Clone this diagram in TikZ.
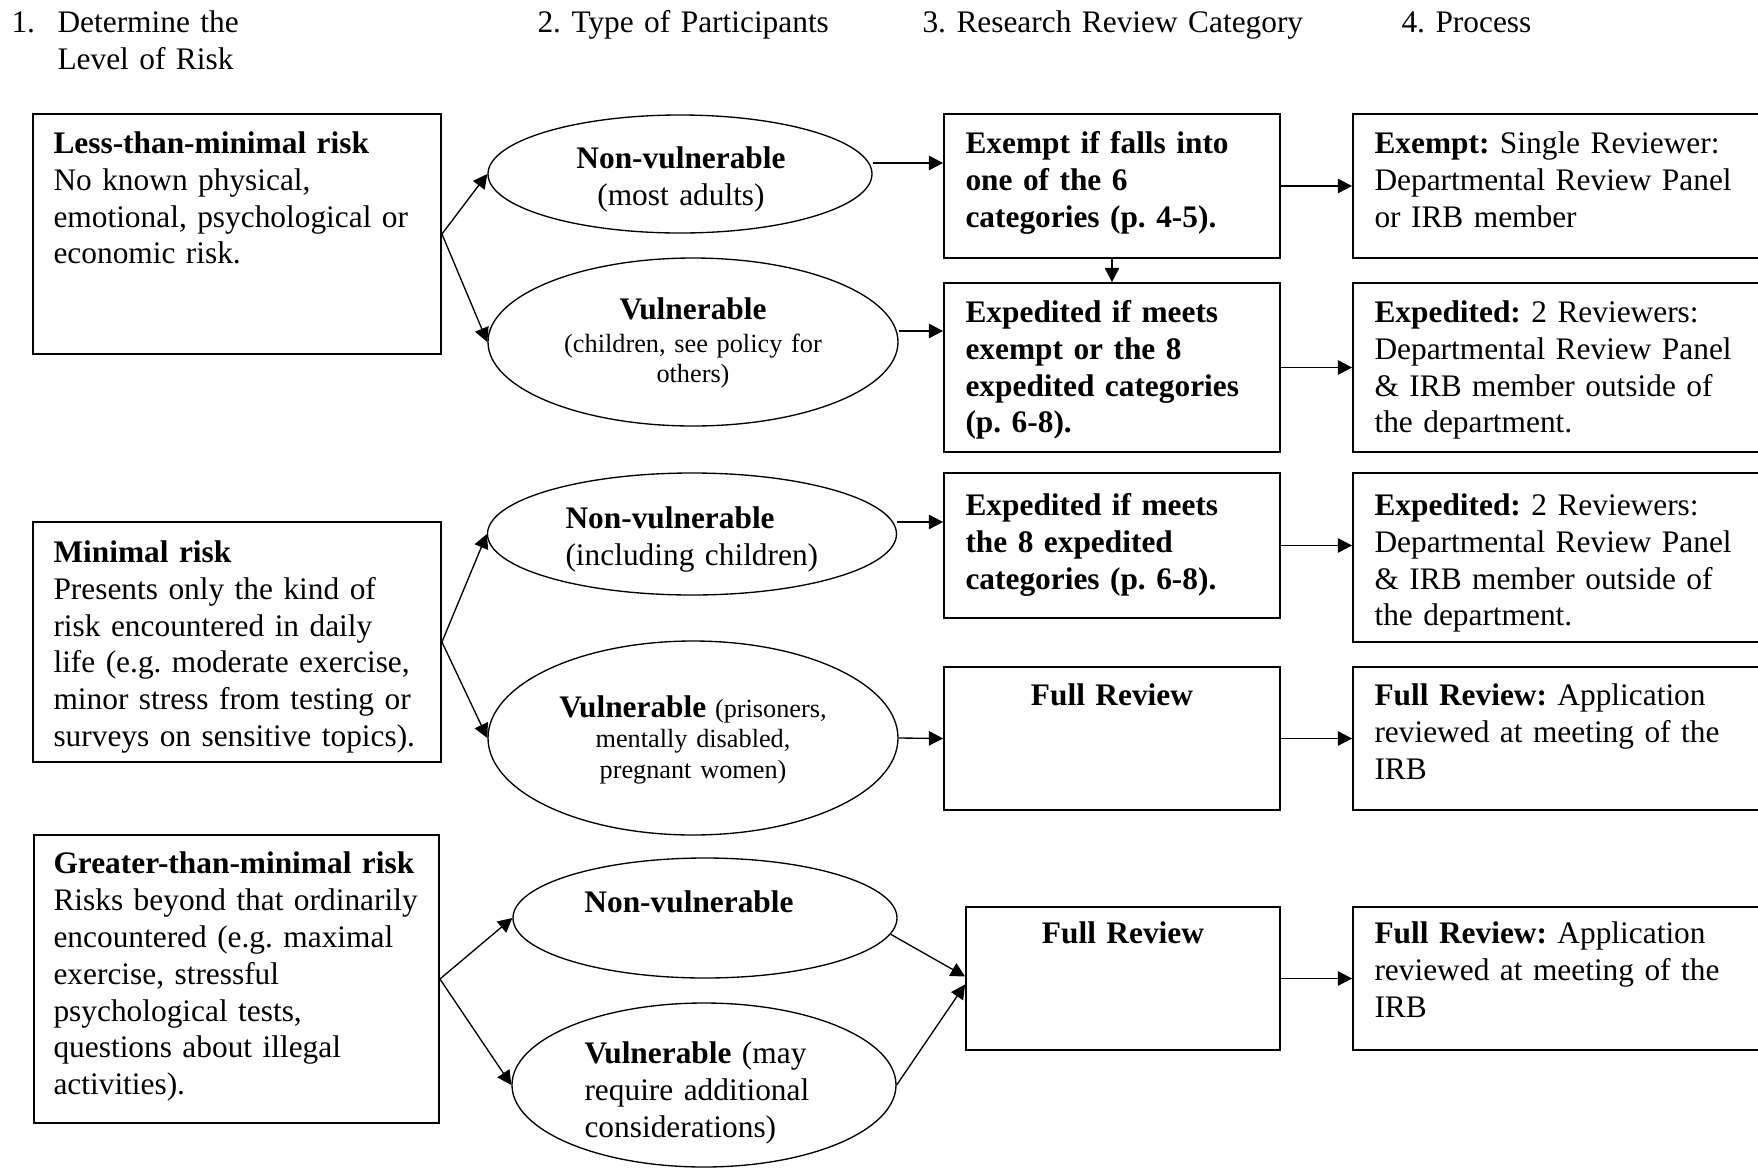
\documentclass[tikz,border=0pt]{standalone}
\usepackage{fontspec}
\setmainfont{Liberation Serif}
\usetikzlibrary{arrows.meta,shapes.geometric,fit}
\newcommand{\px}{0.373pt}
\newcommand{\bodysize}{\fontsize{11.7}{13.8}\selectfont\frenchspacing}
\newcommand{\smallsize}{\fontsize{9.8}{11.5}\selectfont\frenchspacing}

\tikzset{
    box/.style = {draw, line width=0.7pt, inner sep=0pt},
    oval/.style = {draw, ellipse, line width=0.5pt, inner sep=0pt},
    txt/.style = {inner sep=0pt, align=left, text width=400*\px, font=\bodysize},
    ctxt/.style = {inner sep=0pt, align=center, text width=380*\px, font=\bodysize},
    arr/.style = {-{Triangle[length=5.3pt,width=5.4pt]}, line width=0.5pt}
}

\begin{document}
\begin{tikzpicture}[x=\px, y=-\px]
        \useasboundingbox (0,0) rectangle (1758,1168);
        %\draw[help lines] (0,0) grid[step=100] (1758,1168);

        % column heads
        \node[txt, text width=40*\px, anchor=base west] (h1n) at (11,32) {1.};
        \node[txt, anchor=base west] (h1) at (57,32) {Determine the\\Level of Risk};
        \node[txt, anchor=base west] (h2) at (537,32) {2. Type of Participants};
        \node[txt, anchor=base west] (h3) at (922,32) {3. Research Review Category};
        \node[txt, anchor=base west] (h4) at (1401,32) {4. Process};

        % level of risk
        \node[box, fit={(33,114) (441,354)}] (lmr) {};
        \node[box, fit={(33,522) (441,762)}] (mr) {};
        \node[box, fit={(34,835) (439,1123)}] (gmr) {};
        \node[txt, anchor=base west] (lmr-t) at (53,153)
            {\textbf{Less-than-minimal risk}\\No known physical,\\emotional, psychological or\\economic risk.};
        \node[txt, anchor=base west] (mr-t) at (53,562)
            {\textbf{Minimal risk}\\Presents only the kind of\\risk encountered in daily\\life (e.g. moderate exercise,\\minor stress from testing or\\surveys on sensitive topics).};
        \node[txt, anchor=base west] (gmr-t) at (53,873)
            {\textbf{Greater-than-minimal risk}\\Risks beyond that ordinarily\\encountered (e.g. maximal\\exercise, stressful\\psychological tests,\\questions about illegal\\activities).};

        % participants
        \node[oval, minimum width=384*\px, minimum height=118*\px] (nv1) at (680,174) {};
        \node[oval, minimum width=410*\px, minimum height=168*\px] (v1) at (693,342) {};
        \node[oval, minimum width=409*\px, minimum height=122*\px] (nv2) at (692,534) {};
        \node[oval, minimum width=410*\px, minimum height=194*\px] (v2) at (693,738) {};
        \node[oval, minimum width=384*\px, minimum height=120*\px] (nv3) at (705,918) {};
        \node[oval, minimum width=384*\px, minimum height=164*\px] (v3) at (704,1085) {};
        \node[ctxt, anchor=base] (nv1-t) at (681,168) {\textbf{Non-vulnerable}\\(most adults)};
        \node[ctxt, anchor=base] (v1-t) at (693,319) {\textbf{Vulnerable}};
        \node[ctxt, font=\smallsize, anchor=base] (v1-s) at (693,352) {(children, see policy for\\others)};
        \node[txt, anchor=base west] (nv2-t) at (565,528) {\textbf{Non-vulnerable}\\(including children)};
        \node[ctxt, font=\smallsize, anchor=base] (v2-t) at (693,717)
            {{\fontsize{11.7}{11.5}\selectfont\bfseries Vulnerable} (prisoners,\\mentally disabled,\\pregnant women)};
        \node[ctxt, anchor=base] (nv3-t) at (689,912) {\textbf{Non-vulnerable}};
        \node[txt, anchor=base west] (v3-t) at (584,1063) {\textbf{Vulnerable} (may\\require additional\\considerations)};

        % review category
        \node[box, fit={(944,114) (1280,258)}] (ex) {};
        \node[box, fit={(944,283) (1280,452)}] (ed1) {};
        \node[box, fit={(944,473) (1280,618)}] (ed2) {};
        \node[box, fit={(944,667) (1280,810)}] (fr1) {};
        \node[box, fit={(966,907) (1280,1050)}] (fr2) {};
        \node[txt, anchor=base west] (ex-t) at (965,153)
            {\textbf{Exempt if falls into\\one of the 6\\categories (p. 4-5).}};
        \node[txt, anchor=base west] (ed1-t) at (965,322)
            {\textbf{Expedited if meets\\exempt or the 8\\expedited categories\\(p. 6-8).}};
        \node[txt, anchor=base west] (ed2-t) at (965,515)
            {\textbf{Expedited if meets\\the 8 expedited\\categories (p. 6-8).}};
        \node[ctxt, anchor=base] (fr1-t) at (1112,705) {\textbf{Full Review}};
        \node[ctxt, anchor=base] (fr2-t) at (1123,943) {\textbf{Full Review}};

        % process
        \node[box, fit={(1353,114) (1775,258)}] (p1) {};
        \node[box, fit={(1353,283) (1775,452)}] (p2) {};
        \node[box, fit={(1353,473) (1775,642)}] (p3) {};
        \node[box, fit={(1353,667) (1775,810)}] (p4) {};
        \node[box, fit={(1353,907) (1775,1050)}] (p5) {};
        \node[txt, anchor=base west] (p1-t) at (1374,153)
            {\textbf{Exempt:} Single Reviewer:\\Departmental Review Panel\\or IRB member};
        \node[txt, anchor=base west] (p2-t) at (1374,322)
            {\textbf{Expedited:} 2 Reviewers:\\Departmental Review Panel\\\& IRB member outside of\\the department.};
        \node[txt, anchor=base west] (p3-t) at (1374,515)
            {\textbf{Expedited:} 2 Reviewers:\\Departmental Review Panel\\\& IRB member outside of\\the department.};
        \node[txt, anchor=base west] (p4-t) at (1374,705)
            {\textbf{Full Review:} Application\\reviewed at meeting of the\\IRB};
        \node[txt, anchor=base west] (p5-t) at (1374,943)
            {\textbf{Full Review:} Application\\reviewed at meeting of the\\IRB};

        % arrows
        \draw[arr] (lmr.east) -- (nv1.west);
        \draw[arr] (lmr.east) -- (v1.west);
        \draw[arr] (mr.east) -- (nv2.west);
        \draw[arr] (mr.east) -- (v2.west);
        \draw[arr] (gmr.east) -- (nv3.west);
        \draw[arr] (gmr.east) -- (v3.west);

        \draw[arr] ([yshift=11*\px]nv1.east) -- ([yshift=11*\px]nv1.east -| ex.west);
        \draw[arr] ([yshift=11*\px]v1.east) -- ([yshift=11*\px]v1.east -| ed1.west);
        \draw[arr] ([yshift=12*\px]nv2.east) -- ([yshift=12*\px]nv2.east -| ed2.west);
        \draw[arr] (v2.east) -- (fr1.west);
        \draw[arr] (nv3.-5) -- ([yshift=2*\px]fr2.west);
        \draw[arr] (v3.east) -- ([yshift=-6*\px]fr2.west);
        \draw[arr] (ex.south) -- (ed1.north);

        \draw[arr] (ex.east) -- (p1.west);
        \draw[arr] (ed1.east) -- (p2.west);
        \draw[arr] (ed2.east) -- (ed2.east -| p3.west);
        \draw[arr] (fr1.east) -- (p4.west);
        \draw[arr] (fr2.east) -- (p5.west);
\end{tikzpicture}
\end{document}
